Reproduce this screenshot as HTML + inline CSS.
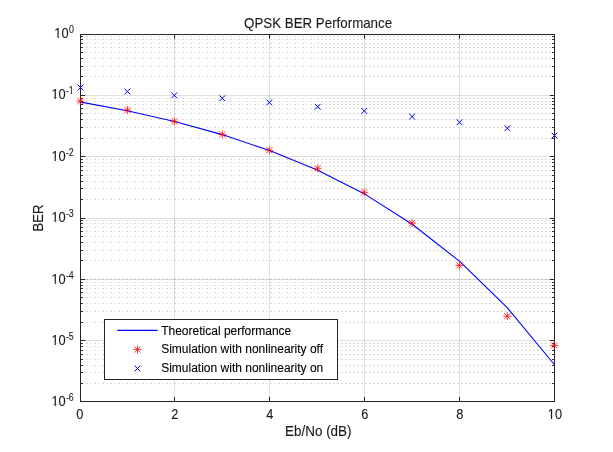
<!DOCTYPE html>
<html><head><meta charset="utf-8"><title>QPSK BER Performance</title>
<style>
html,body{margin:0;padding:0;background:#fff;}
body{width:613px;height:452px;overflow:hidden;font-family:"Liberation Sans",sans-serif;}
svg{display:block;will-change:transform}
text{font-family:"Liberation Sans",sans-serif;fill:#1a1a1a;stroke:#1a1a1a;stroke-width:0.1px;}
g.leg text{fill:#000;stroke:#000;stroke-width:0.1px;}
</style></head><body>
<svg width="613" height="452" viewBox="0 0 613 452">
<defs><clipPath id="ax"><rect x="81" y="35" width="473" height="366"/></clipPath></defs>
<rect width="613" height="452" fill="#fff"/>
<g stroke="rgba(38,38,38,0.15)" stroke-width="1" fill="none" shape-rendering="crispEdges">
<line x1="80.5" y1="95.5" x2="554.5" y2="95.5"/>
<line x1="80.5" y1="156.5" x2="554.5" y2="156.5"/>
<line x1="80.5" y1="218.5" x2="554.5" y2="218.5"/>
<line x1="80.5" y1="279.5" x2="554.5" y2="279.5"/>
<line x1="80.5" y1="340.5" x2="554.5" y2="340.5"/>
<line x1="174.5" y1="34.5" x2="174.5" y2="401.5"/>
<line x1="269.5" y1="34.5" x2="269.5" y2="401.5"/>
<line x1="364.5" y1="34.5" x2="364.5" y2="401.5"/>
<line x1="459.5" y1="34.5" x2="459.5" y2="401.5"/>
</g>
<g stroke="rgba(38,38,38,0.175)" stroke-width="1" fill="none" clip-path="url(#ax)" shape-rendering="crispEdges">
<line x1="78" y1="76.5" x2="316" y2="76.5" stroke-dasharray="2 2 1 3"/>
<line x1="317" y1="76.5" x2="556" y2="76.5" stroke-dasharray="2 2"/>
<line x1="78" y1="66.5" x2="316" y2="66.5" stroke-dasharray="2 2 1 3"/>
<line x1="317" y1="66.5" x2="556" y2="66.5" stroke-dasharray="2 2"/>
<line x1="78" y1="58.5" x2="316" y2="58.5" stroke-dasharray="2 2 1 3"/>
<line x1="317" y1="58.5" x2="556" y2="58.5" stroke-dasharray="2 2"/>
<line x1="78" y1="52.5" x2="316" y2="52.5" stroke-dasharray="2 2 1 3"/>
<line x1="317" y1="52.5" x2="556" y2="52.5" stroke-dasharray="2 2"/>
<line x1="78" y1="47.5" x2="316" y2="47.5" stroke-dasharray="2 2 1 3"/>
<line x1="317" y1="47.5" x2="556" y2="47.5" stroke-dasharray="2 2"/>
<line x1="78" y1="43.5" x2="316" y2="43.5" stroke-dasharray="2 2 1 3"/>
<line x1="317" y1="43.5" x2="556" y2="43.5" stroke-dasharray="2 2"/>
<line x1="78" y1="39.5" x2="316" y2="39.5" stroke-dasharray="2 2 1 3"/>
<line x1="317" y1="39.5" x2="556" y2="39.5" stroke-dasharray="2 2"/>
<line x1="78" y1="36.5" x2="316" y2="36.5" stroke-dasharray="2 2 1 3"/>
<line x1="317" y1="36.5" x2="556" y2="36.5" stroke-dasharray="2 2"/>
<line x1="78" y1="138.5" x2="316" y2="138.5" stroke-dasharray="2 2 1 3"/>
<line x1="317" y1="138.5" x2="556" y2="138.5" stroke-dasharray="2 2"/>
<line x1="78" y1="127.5" x2="316" y2="127.5" stroke-dasharray="2 2 1 3"/>
<line x1="317" y1="127.5" x2="556" y2="127.5" stroke-dasharray="2 2"/>
<line x1="78" y1="119.5" x2="316" y2="119.5" stroke-dasharray="2 2 1 3"/>
<line x1="317" y1="119.5" x2="556" y2="119.5" stroke-dasharray="2 2"/>
<line x1="78" y1="113.5" x2="316" y2="113.5" stroke-dasharray="2 2 1 3"/>
<line x1="317" y1="113.5" x2="556" y2="113.5" stroke-dasharray="2 2"/>
<line x1="78" y1="108.5" x2="316" y2="108.5" stroke-dasharray="2 2 1 3"/>
<line x1="317" y1="108.5" x2="556" y2="108.5" stroke-dasharray="2 2"/>
<line x1="78" y1="104.5" x2="316" y2="104.5" stroke-dasharray="2 2 1 3"/>
<line x1="317" y1="104.5" x2="556" y2="104.5" stroke-dasharray="2 2"/>
<line x1="78" y1="101.5" x2="316" y2="101.5" stroke-dasharray="2 2 1 3"/>
<line x1="317" y1="101.5" x2="556" y2="101.5" stroke-dasharray="2 2"/>
<line x1="78" y1="98.5" x2="316" y2="98.5" stroke-dasharray="2 2 1 3"/>
<line x1="317" y1="98.5" x2="556" y2="98.5" stroke-dasharray="2 2"/>
<line x1="78" y1="199.5" x2="316" y2="199.5" stroke-dasharray="2 2 1 3"/>
<line x1="317" y1="199.5" x2="556" y2="199.5" stroke-dasharray="2 2"/>
<line x1="78" y1="188.5" x2="316" y2="188.5" stroke-dasharray="2 2 1 3"/>
<line x1="317" y1="188.5" x2="556" y2="188.5" stroke-dasharray="2 2"/>
<line x1="78" y1="181.5" x2="316" y2="181.5" stroke-dasharray="2 2 1 3"/>
<line x1="317" y1="181.5" x2="556" y2="181.5" stroke-dasharray="2 2"/>
<line x1="78" y1="175.5" x2="316" y2="175.5" stroke-dasharray="2 2 1 3"/>
<line x1="317" y1="175.5" x2="556" y2="175.5" stroke-dasharray="2 2"/>
<line x1="78" y1="170.5" x2="316" y2="170.5" stroke-dasharray="2 2 1 3"/>
<line x1="317" y1="170.5" x2="556" y2="170.5" stroke-dasharray="2 2"/>
<line x1="78" y1="166.5" x2="316" y2="166.5" stroke-dasharray="2 2 1 3"/>
<line x1="317" y1="166.5" x2="556" y2="166.5" stroke-dasharray="2 2"/>
<line x1="78" y1="162.5" x2="316" y2="162.5" stroke-dasharray="2 2 1 3"/>
<line x1="317" y1="162.5" x2="556" y2="162.5" stroke-dasharray="2 2"/>
<line x1="78" y1="159.5" x2="316" y2="159.5" stroke-dasharray="2 2 1 3"/>
<line x1="317" y1="159.5" x2="556" y2="159.5" stroke-dasharray="2 2"/>
<line x1="78" y1="260.5" x2="316" y2="260.5" stroke-dasharray="2 2 1 3"/>
<line x1="317" y1="260.5" x2="556" y2="260.5" stroke-dasharray="2 2"/>
<line x1="78" y1="250.5" x2="316" y2="250.5" stroke-dasharray="2 2 1 3"/>
<line x1="317" y1="250.5" x2="556" y2="250.5" stroke-dasharray="2 2"/>
<line x1="78" y1="242.5" x2="316" y2="242.5" stroke-dasharray="2 2 1 3"/>
<line x1="317" y1="242.5" x2="556" y2="242.5" stroke-dasharray="2 2"/>
<line x1="78" y1="236.5" x2="316" y2="236.5" stroke-dasharray="2 2 1 3"/>
<line x1="317" y1="236.5" x2="556" y2="236.5" stroke-dasharray="2 2"/>
<line x1="78" y1="231.5" x2="316" y2="231.5" stroke-dasharray="2 2 1 3"/>
<line x1="317" y1="231.5" x2="556" y2="231.5" stroke-dasharray="2 2"/>
<line x1="78" y1="227.5" x2="316" y2="227.5" stroke-dasharray="2 2 1 3"/>
<line x1="317" y1="227.5" x2="556" y2="227.5" stroke-dasharray="2 2"/>
<line x1="78" y1="223.5" x2="316" y2="223.5" stroke-dasharray="2 2 1 3"/>
<line x1="317" y1="223.5" x2="556" y2="223.5" stroke-dasharray="2 2"/>
<line x1="78" y1="220.5" x2="316" y2="220.5" stroke-dasharray="2 2 1 3"/>
<line x1="317" y1="220.5" x2="556" y2="220.5" stroke-dasharray="2 2"/>
<line x1="78" y1="322.5" x2="316" y2="322.5" stroke-dasharray="2 2 1 3"/>
<line x1="317" y1="322.5" x2="556" y2="322.5" stroke-dasharray="2 2"/>
<line x1="78" y1="311.5" x2="316" y2="311.5" stroke-dasharray="2 2 1 3"/>
<line x1="317" y1="311.5" x2="556" y2="311.5" stroke-dasharray="2 2"/>
<line x1="78" y1="303.5" x2="316" y2="303.5" stroke-dasharray="2 2 1 3"/>
<line x1="317" y1="303.5" x2="556" y2="303.5" stroke-dasharray="2 2"/>
<line x1="78" y1="297.5" x2="316" y2="297.5" stroke-dasharray="2 2 1 3"/>
<line x1="317" y1="297.5" x2="556" y2="297.5" stroke-dasharray="2 2"/>
<line x1="78" y1="292.5" x2="316" y2="292.5" stroke-dasharray="2 2 1 3"/>
<line x1="317" y1="292.5" x2="556" y2="292.5" stroke-dasharray="2 2"/>
<line x1="78" y1="288.5" x2="316" y2="288.5" stroke-dasharray="2 2 1 3"/>
<line x1="317" y1="288.5" x2="556" y2="288.5" stroke-dasharray="2 2"/>
<line x1="78" y1="285.5" x2="316" y2="285.5" stroke-dasharray="2 2 1 3"/>
<line x1="317" y1="285.5" x2="556" y2="285.5" stroke-dasharray="2 2"/>
<line x1="78" y1="282.5" x2="316" y2="282.5" stroke-dasharray="2 2 1 3"/>
<line x1="317" y1="282.5" x2="556" y2="282.5" stroke-dasharray="2 2"/>
<line x1="78" y1="383.5" x2="316" y2="383.5" stroke-dasharray="2 2 1 3"/>
<line x1="317" y1="383.5" x2="556" y2="383.5" stroke-dasharray="2 2"/>
<line x1="78" y1="372.5" x2="316" y2="372.5" stroke-dasharray="2 2 1 3"/>
<line x1="317" y1="372.5" x2="556" y2="372.5" stroke-dasharray="2 2"/>
<line x1="78" y1="365.5" x2="316" y2="365.5" stroke-dasharray="2 2 1 3"/>
<line x1="317" y1="365.5" x2="556" y2="365.5" stroke-dasharray="2 2"/>
<line x1="78" y1="359.5" x2="316" y2="359.5" stroke-dasharray="2 2 1 3"/>
<line x1="317" y1="359.5" x2="556" y2="359.5" stroke-dasharray="2 2"/>
<line x1="78" y1="354.5" x2="316" y2="354.5" stroke-dasharray="2 2 1 3"/>
<line x1="317" y1="354.5" x2="556" y2="354.5" stroke-dasharray="2 2"/>
<line x1="78" y1="350.5" x2="316" y2="350.5" stroke-dasharray="2 2 1 3"/>
<line x1="317" y1="350.5" x2="556" y2="350.5" stroke-dasharray="2 2"/>
<line x1="78" y1="346.5" x2="316" y2="346.5" stroke-dasharray="2 2 1 3"/>
<line x1="317" y1="346.5" x2="556" y2="346.5" stroke-dasharray="2 2"/>
<line x1="78" y1="343.5" x2="316" y2="343.5" stroke-dasharray="2 2 1 3"/>
<line x1="317" y1="343.5" x2="556" y2="343.5" stroke-dasharray="2 2"/>
<line x1="78" y1="279.5" x2="316" y2="279.5" stroke-dasharray="2 2 1 3"/>
<line x1="317" y1="279.5" x2="556" y2="279.5" stroke-dasharray="2 2"/>
</g>
<g stroke="#262626" stroke-width="1" fill="none">
<line x1="80.5" y1="34.5" x2="85.2" y2="34.5"/>
<line x1="554.5" y1="34.5" x2="549.8" y2="34.5"/>
<line x1="80.5" y1="95.5" x2="85.2" y2="95.5"/>
<line x1="554.5" y1="95.5" x2="549.8" y2="95.5"/>
<line x1="80.5" y1="156.5" x2="85.2" y2="156.5"/>
<line x1="554.5" y1="156.5" x2="549.8" y2="156.5"/>
<line x1="80.5" y1="218.5" x2="85.2" y2="218.5"/>
<line x1="554.5" y1="218.5" x2="549.8" y2="218.5"/>
<line x1="80.5" y1="279.5" x2="85.2" y2="279.5"/>
<line x1="554.5" y1="279.5" x2="549.8" y2="279.5"/>
<line x1="80.5" y1="340.5" x2="85.2" y2="340.5"/>
<line x1="554.5" y1="340.5" x2="549.8" y2="340.5"/>
<line x1="80.5" y1="401.5" x2="85.2" y2="401.5"/>
<line x1="554.5" y1="401.5" x2="549.8" y2="401.5"/>
<line x1="80.5" y1="76.5" x2="82.9" y2="76.5"/>
<line x1="554.5" y1="76.5" x2="552.1" y2="76.5"/>
<line x1="80.5" y1="66.5" x2="82.9" y2="66.5"/>
<line x1="554.5" y1="66.5" x2="552.1" y2="66.5"/>
<line x1="80.5" y1="58.5" x2="82.9" y2="58.5"/>
<line x1="554.5" y1="58.5" x2="552.1" y2="58.5"/>
<line x1="80.5" y1="52.5" x2="82.9" y2="52.5"/>
<line x1="554.5" y1="52.5" x2="552.1" y2="52.5"/>
<line x1="80.5" y1="47.5" x2="82.9" y2="47.5"/>
<line x1="554.5" y1="47.5" x2="552.1" y2="47.5"/>
<line x1="80.5" y1="43.5" x2="82.9" y2="43.5"/>
<line x1="554.5" y1="43.5" x2="552.1" y2="43.5"/>
<line x1="80.5" y1="39.5" x2="82.9" y2="39.5"/>
<line x1="554.5" y1="39.5" x2="552.1" y2="39.5"/>
<line x1="80.5" y1="36.5" x2="82.9" y2="36.5"/>
<line x1="554.5" y1="36.5" x2="552.1" y2="36.5"/>
<line x1="80.5" y1="138.5" x2="82.9" y2="138.5"/>
<line x1="554.5" y1="138.5" x2="552.1" y2="138.5"/>
<line x1="80.5" y1="127.5" x2="82.9" y2="127.5"/>
<line x1="554.5" y1="127.5" x2="552.1" y2="127.5"/>
<line x1="80.5" y1="119.5" x2="82.9" y2="119.5"/>
<line x1="554.5" y1="119.5" x2="552.1" y2="119.5"/>
<line x1="80.5" y1="113.5" x2="82.9" y2="113.5"/>
<line x1="554.5" y1="113.5" x2="552.1" y2="113.5"/>
<line x1="80.5" y1="108.5" x2="82.9" y2="108.5"/>
<line x1="554.5" y1="108.5" x2="552.1" y2="108.5"/>
<line x1="80.5" y1="104.5" x2="82.9" y2="104.5"/>
<line x1="554.5" y1="104.5" x2="552.1" y2="104.5"/>
<line x1="80.5" y1="101.5" x2="82.9" y2="101.5"/>
<line x1="554.5" y1="101.5" x2="552.1" y2="101.5"/>
<line x1="80.5" y1="98.5" x2="82.9" y2="98.5"/>
<line x1="554.5" y1="98.5" x2="552.1" y2="98.5"/>
<line x1="80.5" y1="199.5" x2="82.9" y2="199.5"/>
<line x1="554.5" y1="199.5" x2="552.1" y2="199.5"/>
<line x1="80.5" y1="188.5" x2="82.9" y2="188.5"/>
<line x1="554.5" y1="188.5" x2="552.1" y2="188.5"/>
<line x1="80.5" y1="181.5" x2="82.9" y2="181.5"/>
<line x1="554.5" y1="181.5" x2="552.1" y2="181.5"/>
<line x1="80.5" y1="175.5" x2="82.9" y2="175.5"/>
<line x1="554.5" y1="175.5" x2="552.1" y2="175.5"/>
<line x1="80.5" y1="170.5" x2="82.9" y2="170.5"/>
<line x1="554.5" y1="170.5" x2="552.1" y2="170.5"/>
<line x1="80.5" y1="166.5" x2="82.9" y2="166.5"/>
<line x1="554.5" y1="166.5" x2="552.1" y2="166.5"/>
<line x1="80.5" y1="162.5" x2="82.9" y2="162.5"/>
<line x1="554.5" y1="162.5" x2="552.1" y2="162.5"/>
<line x1="80.5" y1="159.5" x2="82.9" y2="159.5"/>
<line x1="554.5" y1="159.5" x2="552.1" y2="159.5"/>
<line x1="80.5" y1="260.5" x2="82.9" y2="260.5"/>
<line x1="554.5" y1="260.5" x2="552.1" y2="260.5"/>
<line x1="80.5" y1="250.5" x2="82.9" y2="250.5"/>
<line x1="554.5" y1="250.5" x2="552.1" y2="250.5"/>
<line x1="80.5" y1="242.5" x2="82.9" y2="242.5"/>
<line x1="554.5" y1="242.5" x2="552.1" y2="242.5"/>
<line x1="80.5" y1="236.5" x2="82.9" y2="236.5"/>
<line x1="554.5" y1="236.5" x2="552.1" y2="236.5"/>
<line x1="80.5" y1="231.5" x2="82.9" y2="231.5"/>
<line x1="554.5" y1="231.5" x2="552.1" y2="231.5"/>
<line x1="80.5" y1="227.5" x2="82.9" y2="227.5"/>
<line x1="554.5" y1="227.5" x2="552.1" y2="227.5"/>
<line x1="80.5" y1="223.5" x2="82.9" y2="223.5"/>
<line x1="554.5" y1="223.5" x2="552.1" y2="223.5"/>
<line x1="80.5" y1="220.5" x2="82.9" y2="220.5"/>
<line x1="554.5" y1="220.5" x2="552.1" y2="220.5"/>
<line x1="80.5" y1="322.5" x2="82.9" y2="322.5"/>
<line x1="554.5" y1="322.5" x2="552.1" y2="322.5"/>
<line x1="80.5" y1="311.5" x2="82.9" y2="311.5"/>
<line x1="554.5" y1="311.5" x2="552.1" y2="311.5"/>
<line x1="80.5" y1="303.5" x2="82.9" y2="303.5"/>
<line x1="554.5" y1="303.5" x2="552.1" y2="303.5"/>
<line x1="80.5" y1="297.5" x2="82.9" y2="297.5"/>
<line x1="554.5" y1="297.5" x2="552.1" y2="297.5"/>
<line x1="80.5" y1="292.5" x2="82.9" y2="292.5"/>
<line x1="554.5" y1="292.5" x2="552.1" y2="292.5"/>
<line x1="80.5" y1="288.5" x2="82.9" y2="288.5"/>
<line x1="554.5" y1="288.5" x2="552.1" y2="288.5"/>
<line x1="80.5" y1="285.5" x2="82.9" y2="285.5"/>
<line x1="554.5" y1="285.5" x2="552.1" y2="285.5"/>
<line x1="80.5" y1="282.5" x2="82.9" y2="282.5"/>
<line x1="554.5" y1="282.5" x2="552.1" y2="282.5"/>
<line x1="80.5" y1="383.5" x2="82.9" y2="383.5"/>
<line x1="554.5" y1="383.5" x2="552.1" y2="383.5"/>
<line x1="80.5" y1="372.5" x2="82.9" y2="372.5"/>
<line x1="554.5" y1="372.5" x2="552.1" y2="372.5"/>
<line x1="80.5" y1="365.5" x2="82.9" y2="365.5"/>
<line x1="554.5" y1="365.5" x2="552.1" y2="365.5"/>
<line x1="80.5" y1="359.5" x2="82.9" y2="359.5"/>
<line x1="554.5" y1="359.5" x2="552.1" y2="359.5"/>
<line x1="80.5" y1="354.5" x2="82.9" y2="354.5"/>
<line x1="554.5" y1="354.5" x2="552.1" y2="354.5"/>
<line x1="80.5" y1="350.5" x2="82.9" y2="350.5"/>
<line x1="554.5" y1="350.5" x2="552.1" y2="350.5"/>
<line x1="80.5" y1="346.5" x2="82.9" y2="346.5"/>
<line x1="554.5" y1="346.5" x2="552.1" y2="346.5"/>
<line x1="80.5" y1="343.5" x2="82.9" y2="343.5"/>
<line x1="554.5" y1="343.5" x2="552.1" y2="343.5"/>
<line x1="174.5" y1="401.5" x2="174.5" y2="396.9"/>
<line x1="174.5" y1="34.5" x2="174.5" y2="38.8"/>
<line x1="269.5" y1="401.5" x2="269.5" y2="396.9"/>
<line x1="269.5" y1="34.5" x2="269.5" y2="38.8"/>
<line x1="364.5" y1="401.5" x2="364.5" y2="396.9"/>
<line x1="364.5" y1="34.5" x2="364.5" y2="38.8"/>
<line x1="459.5" y1="401.5" x2="459.5" y2="396.9"/>
<line x1="459.5" y1="34.5" x2="459.5" y2="38.8"/>
<rect x="80.5" y="34.5" width="474.0" height="367.0"/>
</g>
<polyline points="79.70,101.90 127.20,110.70 174.70,121.50 222.20,134.60 269.70,150.60 317.20,169.90 364.70,194.10 412.20,224.20 459.70,261.40 507.20,307.70 554.70,365.00" fill="none" stroke="#0000ff" stroke-width="1.1" stroke-linejoin="round"/>
<path d="M76.30 101.10H84.30M80.30 97.10V105.10M77.20 98.00L83.40 104.20M77.20 104.20L83.40 98.00" stroke="#ff0000" stroke-width="0.75" fill="none"/>
<path d="M123.40 110.06H131.40M127.40 106.06V114.06M124.30 106.96L130.50 113.16M124.30 113.16L130.50 106.96" stroke="#ff0000" stroke-width="0.75" fill="none"/>
<path d="M170.30 121.40H178.30M174.30 117.40V125.40M171.20 118.30L177.40 124.50M171.20 124.50L177.40 118.30" stroke="#ff0000" stroke-width="0.75" fill="none"/>
<path d="M218.30 134.40H226.30M222.30 130.40V138.40M219.20 131.30L225.40 137.50M219.20 137.50L225.40 131.30" stroke="#ff0000" stroke-width="0.75" fill="none"/>
<path d="M265.30 150.20H273.30M269.30 146.20V154.20M266.20 147.10L272.40 153.30M266.20 153.30L272.40 147.10" stroke="#ff0000" stroke-width="0.75" fill="none"/>
<path d="M313.70 168.30H321.70M317.70 164.30V172.30M314.60 165.20L320.80 171.40M314.60 171.40L320.80 165.20" stroke="#ff0000" stroke-width="0.75" fill="none"/>
<path d="M360.20 192.30H368.20M364.20 188.30V196.30M361.10 189.20L367.30 195.40M361.10 195.40L367.30 189.20" stroke="#ff0000" stroke-width="0.75" fill="none"/>
<path d="M408.07 223.10H416.07M412.07 219.10V227.10M408.97 220.00L415.17 226.20M408.97 226.20L415.17 220.00" stroke="#ff0000" stroke-width="0.75" fill="none"/>
<path d="M455.35 265.40H463.35M459.35 261.40V269.40M456.25 262.30L462.45 268.50M456.25 268.50L462.45 262.30" stroke="#ff0000" stroke-width="0.75" fill="none"/>
<path d="M503.30 316.25H511.30M507.30 312.25V320.25M504.20 313.15L510.40 319.35M504.20 319.35L510.40 313.15" stroke="#ff0000" stroke-width="0.75" fill="none"/>
<path d="M550.20 345.40H558.20M554.20 341.40V349.40M551.10 342.30L557.30 348.50M551.10 348.50L557.30 342.30" stroke="#ff0000" stroke-width="0.75" fill="none"/>
<path d="M77.60 84.65L83.40 90.45M77.60 90.45L83.40 84.65" stroke="#0000ff" stroke-width="1.0" fill="none"/>
<path d="M124.50 88.60L130.30 94.40M124.50 94.40L130.30 88.60" stroke="#0000ff" stroke-width="1.0" fill="none"/>
<path d="M171.40 92.50L177.20 98.30M171.40 98.30L177.20 92.50" stroke="#0000ff" stroke-width="1.0" fill="none"/>
<path d="M219.40 95.40L225.20 101.20M219.40 101.20L225.20 95.40" stroke="#0000ff" stroke-width="1.0" fill="none"/>
<path d="M266.40 99.60L272.20 105.40M266.40 105.40L272.20 99.60" stroke="#0000ff" stroke-width="1.0" fill="none"/>
<path d="M314.80 103.80L320.60 109.60M314.80 109.60L320.60 103.80" stroke="#0000ff" stroke-width="1.0" fill="none"/>
<path d="M361.40 108.00L367.20 113.80M361.40 113.80L367.20 108.00" stroke="#0000ff" stroke-width="1.0" fill="none"/>
<path d="M409.20 113.70L415.00 119.50M409.20 119.50L415.00 113.70" stroke="#0000ff" stroke-width="1.0" fill="none"/>
<path d="M456.60 119.40L462.40 125.20M456.60 125.20L462.40 119.40" stroke="#0000ff" stroke-width="1.0" fill="none"/>
<path d="M504.50 125.30L510.30 131.10M504.50 131.10L510.30 125.30" stroke="#0000ff" stroke-width="1.0" fill="none"/>
<path d="M551.60 132.70L557.40 138.50M551.60 138.50L557.40 132.70" stroke="#0000ff" stroke-width="1.0" fill="none"/>
<rect x="104.5" y="319.5" width="233" height="60" fill="#fff" stroke="#262626" stroke-width="1"/>
<line x1="117.3" y1="330.3" x2="157.6" y2="330.3" stroke="#0000ff" stroke-width="1.2"/>
<path d="M133.50 349.60H141.50M137.50 345.60V353.60M134.40 346.50L140.60 352.70M134.40 352.70L140.60 346.50" stroke="#ff0000" stroke-width="0.75" fill="none"/>
<path d="M134.60 365.60L140.40 371.40M134.60 371.40L140.40 365.60" stroke="#0000ff" stroke-width="1.0" fill="none"/>
<g class="leg" font-size="12px">
<text x="161.2" y="334.7">Theoretical performance</text>
<text x="161.2" y="352.9">Simulation with nonlinearity off</text>
<text x="161.2" y="371.9">Simulation with nonlinearity on</text>
</g>
<g font-size="14px">
<text transform="translate(79.90,418.7) scale(0.91,1)" text-anchor="middle">0</text>
<text transform="translate(174.90,418.7) scale(0.91,1)" text-anchor="middle">2</text>
<text transform="translate(269.90,418.7) scale(0.91,1)" text-anchor="middle">4</text>
<text transform="translate(364.90,418.7) scale(0.91,1)" text-anchor="middle">6</text>
<text transform="translate(459.90,418.7) scale(0.91,1)" text-anchor="middle">8</text>
<text transform="translate(554.90,418.7) scale(0.91,1)" text-anchor="middle">10</text>
<rect x="548.09" y="417.20" width="2.91" height="2.00" fill="#fff"/><rect x="552.17" y="417.20" width="2.81" height="2.00" fill="#fff"/>
<text transform="translate(68.68,38.00) scale(0.92,1)" text-anchor="end">10</text>
<rect x="54.63" y="36.50" width="2.94" height="2.00" fill="#fff"/><rect x="58.75" y="36.50" width="2.84" height="2.00" fill="#fff"/>
<text transform="translate(73.8,33.10) scale(0.82,1)" text-anchor="end" font-size="10.8px">0</text>
<text transform="translate(65.73,99.39) scale(0.92,1)" text-anchor="end">10</text>
<rect x="51.69" y="97.89" width="2.94" height="2.00" fill="#fff"/><rect x="55.80" y="97.89" width="2.84" height="2.00" fill="#fff"/>
<text transform="translate(73.8,94.49) scale(0.82,1)" text-anchor="end" font-size="10.8px">-1</text>
<rect x="68.85" y="93.23" width="2.23" height="1.76" fill="#fff"/><rect x="71.91" y="93.23" width="2.16" height="1.76" fill="#fff"/>
<text transform="translate(65.73,160.78) scale(0.92,1)" text-anchor="end">10</text>
<rect x="51.69" y="159.28" width="2.94" height="2.00" fill="#fff"/><rect x="55.80" y="159.28" width="2.84" height="2.00" fill="#fff"/>
<text transform="translate(73.8,155.88) scale(0.82,1)" text-anchor="end" font-size="10.8px">-2</text>
<text transform="translate(65.73,222.17) scale(0.92,1)" text-anchor="end">10</text>
<rect x="51.69" y="220.67" width="2.94" height="2.00" fill="#fff"/><rect x="55.80" y="220.67" width="2.84" height="2.00" fill="#fff"/>
<text transform="translate(73.8,217.27) scale(0.82,1)" text-anchor="end" font-size="10.8px">-3</text>
<text transform="translate(65.73,283.56) scale(0.92,1)" text-anchor="end">10</text>
<rect x="51.69" y="282.06" width="2.94" height="2.00" fill="#fff"/><rect x="55.80" y="282.06" width="2.84" height="2.00" fill="#fff"/>
<text transform="translate(73.8,278.66) scale(0.82,1)" text-anchor="end" font-size="10.8px">-4</text>
<text transform="translate(65.73,344.95) scale(0.92,1)" text-anchor="end">10</text>
<rect x="51.69" y="343.45" width="2.94" height="2.00" fill="#fff"/><rect x="55.80" y="343.45" width="2.84" height="2.00" fill="#fff"/>
<text transform="translate(73.8,340.05) scale(0.82,1)" text-anchor="end" font-size="10.8px">-5</text>
<text transform="translate(65.73,406.34) scale(0.92,1)" text-anchor="end">10</text>
<rect x="51.69" y="404.84" width="2.94" height="2.00" fill="#fff"/><rect x="55.80" y="404.84" width="2.84" height="2.00" fill="#fff"/>
<text transform="translate(73.8,401.44) scale(0.82,1)" text-anchor="end" font-size="10.8px">-6</text>
</g>
<g font-size="13.9px">
<text transform="translate(318.1,27.6) scale(0.958,1)" text-anchor="middle">QPSK BER Performance</text>
<text transform="translate(318.3,435.8) scale(0.966,1)" text-anchor="middle">Eb/No (dB)</text>
<text transform="translate(43.2,218) rotate(-90) scale(0.95,1)" text-anchor="middle">BER</text>
</g>
</svg></body></html>
